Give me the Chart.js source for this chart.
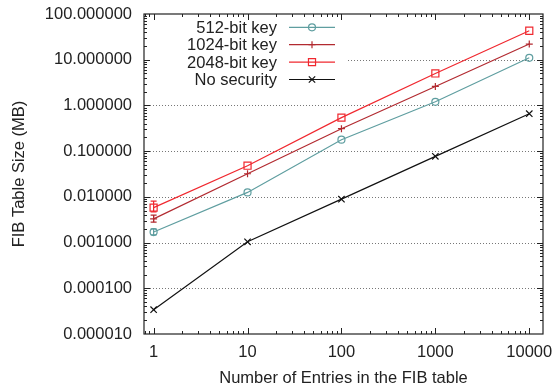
<!DOCTYPE html>
<html>
<head>
<meta charset="utf-8">
<script src="https://cdn.jsdelivr.net/npm/chart.js@4"></script>
<style>
body{margin:0;background:#fff}
canvas{display:block}
</style>
</head>
<body>
<canvas id="fib" width="560" height="387"></canvas>
<script>
// data
const entries=[1,10,100,1000,10000];
const seriesNames=['512-bit key','1024-bit key','2048-bit key','No security'];
const key512=[0.0017,0.0125,0.178,1.2,11];
const key1024=[0.0033,0.032,0.31,2.6,22];
const key2048=[0.0058,0.048,0.54,5.0,43];
const noSecurity=[0.000034,0.00104,0.0089,0.077,0.66];
// error bars at 1 entry (low, high)
const errLow512=[0.00148,null,null,null,null];
const errHigh512=[0.0020,null,null,null,null];
const errLow1024=[0.0028,null,null,null,null];
const errHigh1024=[0.0040,null,null,null,null];
const errLow2048=[0.0047,null,null,null,null];
const errHigh2048=[0.0081,null,null,null,null];
const xTicks=[1,10,100,1000,10000];
const yTicks=[0.00001,0.0001,0.001,0.01,0.1,1,10,100];

const FONT="'Liberation Sans', Arial, sans-serif";
const FS=16.5;
const colors=['#5f9ea0','#b22a30','#f0282f','#111111'];
const styles=['circle','cross','rect','crossRot'];
const radii=[3.5,3.5,5,4.5];
const allVals=[key512,key1024,key2048,noSecurity];
const lows=[errLow512,errLow1024,errLow2048,null];
const highs=[errHigh512,errHigh1024,errHigh2048,null];

const toPts=arr=>entries.map((x,i)=>({x:x,y:arr[i]}));

const datasets=allVals.map((arr,k)=>({
  label:seriesNames[k],
  data:toPts(arr),
  borderColor:colors[k],
  backgroundColor:'rgba(0,0,0,0)',
  pointBackgroundColor:'rgba(0,0,0,0)',
  pointBorderColor:colors[k],
  pointStyle:styles[k],
  pointRadius:radii[k],
  pointBorderWidth:1.2,
  borderWidth:1.2,
  tension:0
}));

const framePlugin={
  id:'frame',
  beforeDatasetsDraw(chart){
    const ctx=chart.ctx, a=chart.chartArea, ys=chart.scales.y;
    ctx.save();
    ctx.strokeStyle='#777';
    ctx.lineWidth=1;
    ctx.setLineDash([1,2]);
    yTicks.forEach(v=>{
      const p=Math.round(ys.getPixelForValue(v))+0.5;
      if(p<=a.top+1||p>=a.bottom-1)return;
      ctx.beginPath();ctx.moveTo(a.left,p);ctx.lineTo(a.right,p);ctx.stroke();
    });
    ctx.setLineDash([]);
    // legend background box
    ctx.fillStyle='#fff';
    ctx.fillRect(a.left,a.top,202,76);
    ctx.restore();
  },
  afterDatasetsDraw(chart){
    const ctx=chart.ctx, a=chart.chartArea, xs=chart.scales.x, ys=chart.scales.y;
    ctx.save();
    // error bars
    ctx.lineWidth=1.2;
    allVals.forEach((arr,k)=>{
      if(!lows[k])return;
      ctx.strokeStyle=colors[k];
      entries.forEach((x,i)=>{
        if(lows[k][i]==null)return;
        const px=xs.getPixelForValue(x);
        const y1=ys.getPixelForValue(lows[k][i]), y2=ys.getPixelForValue(highs[k][i]);
        ctx.beginPath();
        ctx.moveTo(px,y1);ctx.lineTo(px,y2);
        ctx.moveTo(px-3,y1);ctx.lineTo(px+3,y1);
        ctx.moveTo(px-3,y2);ctx.lineTo(px+3,y2);
        ctx.stroke();
      });
    });
    // frame
    ctx.strokeStyle='#222';
    ctx.lineWidth=1.2;
    ctx.strokeRect(a.left,a.top,a.right-a.left,a.bottom-a.top);
    // ticks
    ctx.lineWidth=1;
    const tick=(x1,y1,x2,y2)=>{ctx.beginPath();ctx.moveTo(x1,y1);ctx.lineTo(x2,y2);ctx.stroke();};
    for(let e=-6;e<=3;e++){
      for(let m=1;m<=9;m++){
        const v=m*Math.pow(10,e);
        if(v<=ys.min*1.0001||v>=ys.max*0.9999)continue;
        const p=Math.round(ys.getPixelForValue(v))+0.5;
        const len=m===1?6:3;
        tick(a.left,p,a.left+len,p);
        tick(a.right,p,a.right-len,p);
      }
    }
    for(let e=-1;e<=5;e++){
      for(let m=1;m<=9;m++){
        const v=m*Math.pow(10,e);
        if(v<=xs.min||v>=xs.max)continue;
        const p=Math.round(xs.getPixelForValue(v))+0.5;
        const len=m===1?6:3;
        tick(p,a.bottom,p,a.bottom-len);
        tick(p,a.top,p,a.top+len);
      }
    }
    // legend
    ctx.font=FS+'px '+FONT;
    ctx.textAlign='right';
    ctx.textBaseline='middle';
    seriesNames.forEach((name,k)=>{
      const ry=a.top+13.3+k*17.4;
      ctx.fillStyle='#222';
      ctx.fillText(name,a.left+133,ry+1);
      ctx.strokeStyle=colors[k];
      ctx.fillStyle='rgba(0,0,0,0)';
      ctx.lineWidth=1.2;
      tick(a.left+145,ry,a.left+191,ry);
      Chart.helpers.drawPoint(ctx,{pointStyle:styles[k],radius:radii[k],rotation:0,borderWidth:1.2},a.left+168,ry);
    });
    ctx.restore();
  }
};

new Chart(document.getElementById('fib'),{
  type:'line',
  data:{datasets:datasets},
  plugins:[framePlugin],
  options:{
    responsive:false,
    animation:false,
    layout:{padding:{top:14,right:17,left:0,bottom:0}},
    plugins:{legend:{display:false},tooltip:{enabled:false}},
    scales:{
      x:{
        type:'logarithmic',
        min:0.79,max:14000,
        grid:{display:false,drawTicks:false},
        border:{display:false},
        afterFit(s){s.height=53;s.paddingLeft=0;s.paddingRight=0;},
        afterBuildTicks(s){s.ticks=xTicks.map(v=>({value:v}));},
        ticks:{color:'#222',font:{family:FONT,size:FS},padding:9,maxRotation:0,autoSkip:false,callback:v=>String(v)},
        title:{display:true,text:'Number of Entries in the FIB table',color:'#222',font:{family:FONT,size:FS},padding:{top:0,bottom:-1}}
      },
      y:{
        type:'logarithmic',
        min:0.00001,max:100,
        grid:{display:false,drawTicks:false},
        border:{display:false},
        afterFit(s){s.width=144;s.paddingTop=0;s.paddingBottom=0;},
        afterBuildTicks(s){s.ticks=yTicks.map(v=>({value:v}));},
        ticks:{color:'#222',font:{family:FONT,size:FS},padding:12,autoSkip:false,callback:v=>Number(v).toFixed(6)},
        title:{display:true,text:'FIB Table Size (MB)',color:'#222',font:{family:FONT,size:FS},padding:{top:10,bottom:0}}
      }
    }
  }
});
</script>
</body>
</html>
